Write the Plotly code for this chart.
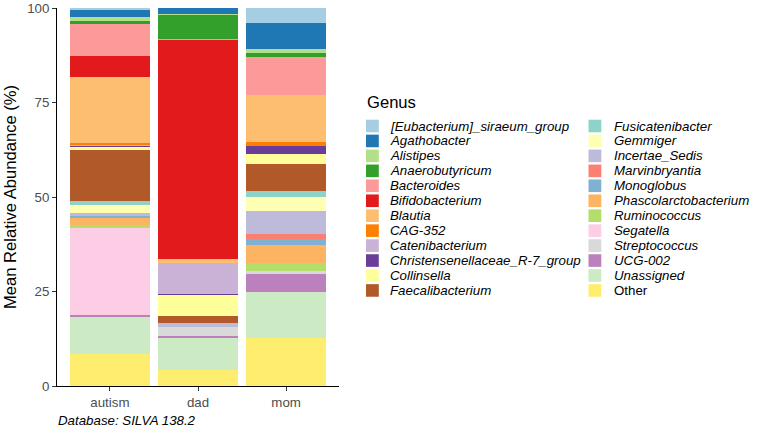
import plotly.graph_objects as go

groups = ["autism", "dad", "mom"]

genera = [
    "[Eubacterium]_siraeum_group", "Agathobacter", "Alistipes", "Anaerobutyricum",
    "Bacteroides", "Bifidobacterium", "Blautia", "CAG-352", "Catenibacterium",
    "Christensenellaceae_R-7_group", "Collinsella", "Faecalibacterium",
    "Fusicatenibacter", "Gemmiger", "Incertae_Sedis", "Marvinbryantia",
    "Monoglobus", "Phascolarctobacterium", "Ruminococcus", "Segatella",
    "Streptococcus", "UCG-002", "Unassigned", "Other",
]

colors = [
    "#A6CEE3", "#1F78B4", "#B2DF8A", "#33A02C", "#FB9A99", "#E31A1C",
    "#FDBF6F", "#FF7F00", "#CAB2D6", "#6A3D9A", "#FFFF99", "#B15928",
    "#8DD3C7", "#FFFFB3", "#BEBADA", "#FB8072", "#80B1D3", "#FDB462",
    "#B3DE69", "#FCCDE5", "#D9D9D9", "#BC80BD", "#CCEBC5", "#FFED6F",
]

# mean relative abundance (%) per genus, in order [autism, dad, mom]
autism = [0.3, 2.2, 1.0, 0.5, 8.7, 5.5, 17.5, 0.6, 0.1, 0.3, 0.9, 13.5,
          1.1, 2.0, 0.7, 0.1, 0.3, 2.2, 0.6, 23.0, 0.1, 0.4, 10.0, 8.4]
dad = [0.0, 1.5, 0.1, 6.5, 0.3, 57.9, 1.2, 0.0, 8.1, 0.2, 5.8, 1.8,
       0.0, 0.0, 1.1, 0.0, 0.0, 0.0, 0.0, 0.0, 2.2, 0.7, 8.4, 4.2]
mom = [4.0, 6.8, 1.2, 0.9, 10.2, 0.0, 12.4, 1.0, 0.0, 2.2, 2.7, 6.9,
       1.6, 3.7, 6.3, 1.2, 1.6, 4.8, 2.2, 0.0, 0.5, 4.8, 12.4, 12.6]

y_ticks = [0, 25, 50, 75, 100]

FONT = "Liberation Sans, Arial, sans-serif"
W, H = 763, 436
ML, MR, MT, MB = 57, 424, 8, 50
PW, PH = W - ML - MR, H - MT - MB


def px(x):
    return (x - ML) / PW


def py(y):
    return (H - MB - y) / PH


fig = go.Figure()
# plotly stacks the first trace at the bottom -> add in reverse order
for i in reversed(range(len(genera))):
    fig.add_trace(go.Bar(
        x=groups,
        y=[autism[i], dad[i], mom[i]],
        name=genera[i],
        marker=dict(color=colors[i], line=dict(width=0)),
        width=0.9,
        showlegend=False,
        hovertemplate="%{x}<br>" + genera[i] + ": %{y:.1f}%<extra></extra>",
    ))

shapes = []
annotations = []

# legend (two columns, drawn from the genus list)
n_col = 12
for i, (g, c) in enumerate(zip(genera, colors)):
    col, row = divmod(i, n_col)
    sx0 = 366 if col == 0 else 588.5
    tx = 388 if col == 0 else 611.5
    cy = 126 + row * 14.95
    shapes.append(dict(type="rect", xref="paper", yref="paper",
                       x0=px(sx0), x1=px(sx0 + 12.8),
                       y0=py(cy + 6.3), y1=py(cy - 6.3),
                       fillcolor=c, line=dict(width=0), layer="above"))
    label = g if g == "Other" else "<i>" + g + "</i>"
    annotations.append(dict(x=px(tx), y=py(cy), xref="paper", yref="paper",
                            text=label, showarrow=False, xanchor="left",
                            yanchor="middle",
                            font=dict(family=FONT, size=13.3, color="#000000")))

annotations.append(dict(x=px(365), y=py(103), xref="paper", yref="paper",
                        text="Genus", showarrow=False, xanchor="left",
                        yanchor="middle",
                        font=dict(family=FONT, size=16.6, color="#000000")))

annotations.append(dict(x=px(56), y=py(420), xref="paper", yref="paper",
                        text="<i>Database: SILVA 138.2</i>", showarrow=False,
                        xanchor="left", yanchor="middle",
                        font=dict(family=FONT, size=13.3, color="#000000")))

fig.update_layout(
    width=W, height=H,
    margin=dict(l=ML, r=MR, t=MT, b=MB, pad=0),
    barmode="stack",
    bargap=0.1,
    plot_bgcolor="white",
    paper_bgcolor="white",
    font=dict(family=FONT, color="#000000"),
    shapes=shapes,
    annotations=annotations,
    xaxis=dict(
        type="category",
        range=[-0.6, 2.6],
        showline=True, linecolor="#000000", linewidth=1,
        ticks="outside", ticklen=4, tickcolor="#333333", tickwidth=1,
        tickfont=dict(family=FONT, size=13.3, color="#4D4D4D"),
        showgrid=False, zeroline=False,
        fixedrange=True,
    ),
    yaxis=dict(
        range=[0, 100],
        tickvals=y_ticks,
        ticktext=[str(v) for v in y_ticks],
        showline=True, linecolor="#000000", linewidth=1,
        ticks="outside", ticklen=4, tickcolor="#333333", tickwidth=1,
        tickfont=dict(family=FONT, size=13.3, color="#4D4D4D"),
        showgrid=False, zeroline=False,
        title=dict(text="Mean Relative Abundance (%)",
                   font=dict(family=FONT, size=16.6, color="#000000"),
                   standoff=6),
        automargin=False,
        fixedrange=True,
    ),
)

fig.write_html("out.html")
